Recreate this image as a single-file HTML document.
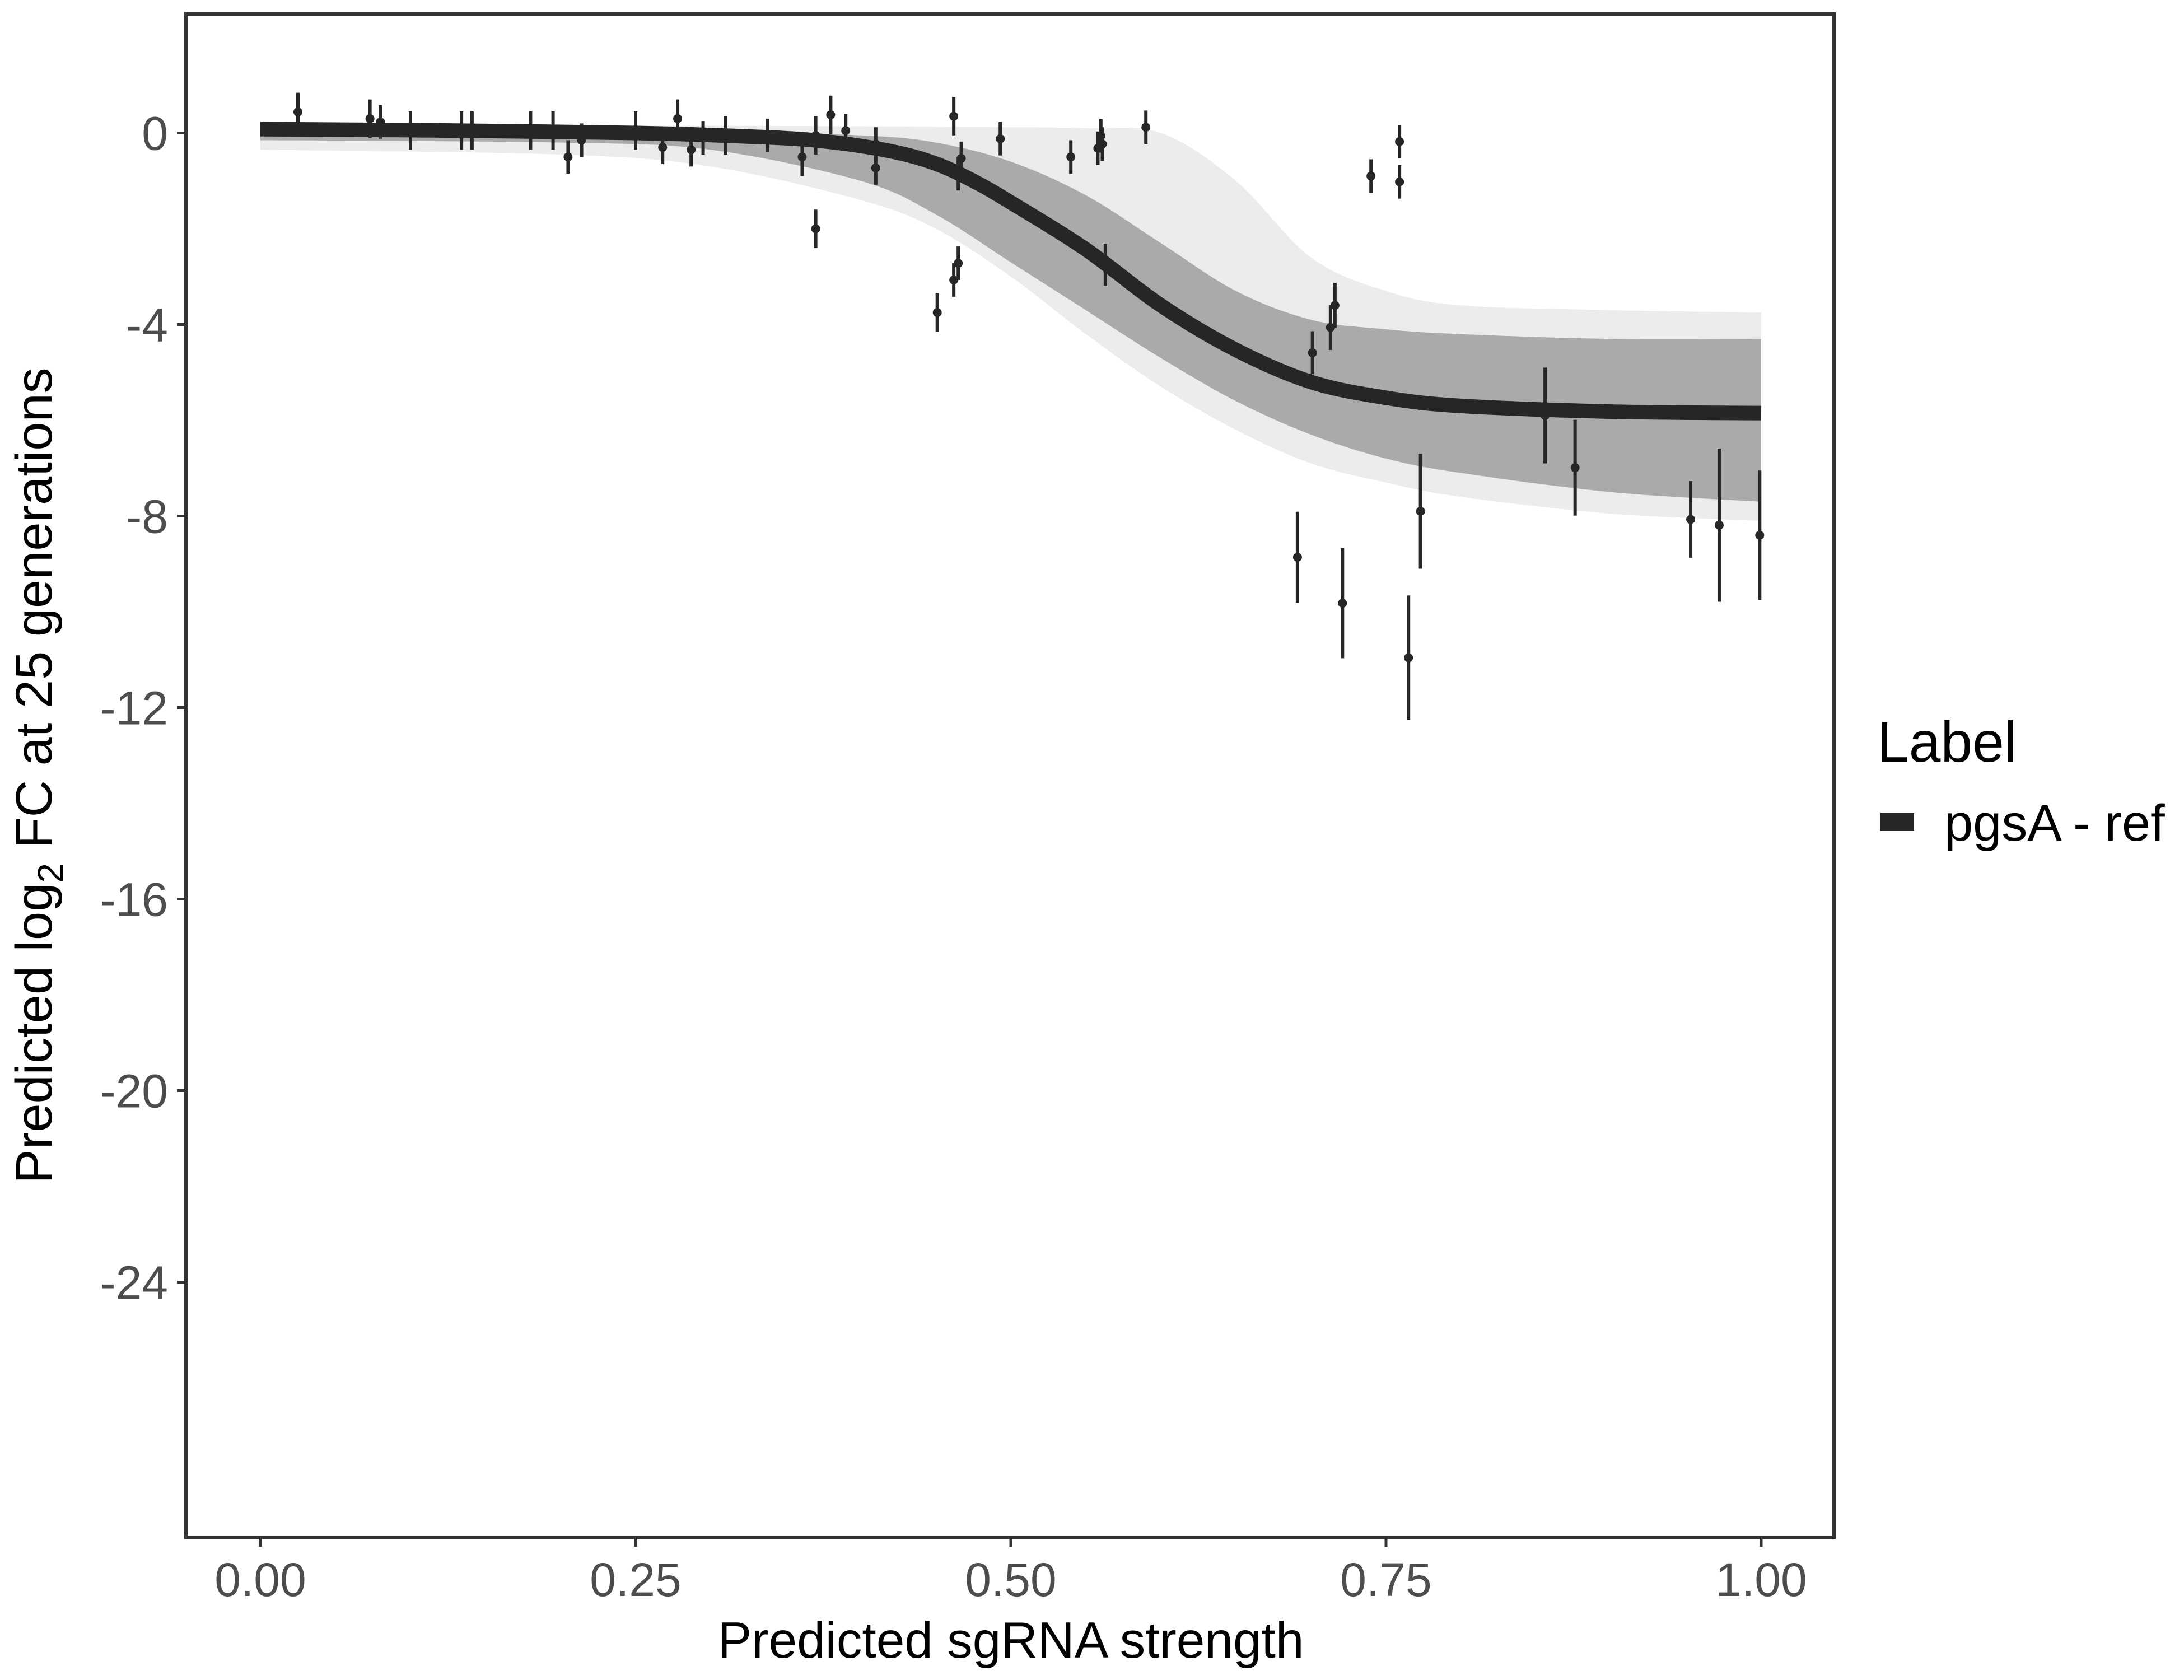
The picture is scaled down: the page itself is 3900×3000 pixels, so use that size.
<!DOCTYPE html>
<html><head><meta charset="utf-8"><style>
html,body{margin:0;padding:0;background:#fff;}
svg{display:block;font-family:"Liberation Sans",sans-serif;}
</style></head><body>
<svg id="chart" width="3900" height="3000" viewBox="0 0 3900 3000">
<rect x="0" y="0" width="3900" height="3000" fill="#fff"/>
<g id="band"></g>
<g id="curve"></g>
<g id="pts"></g>
<rect x="332" y="25" width="2943" height="2720" fill="none" stroke="#333" stroke-width="6"/>
<g id="axes"></g>
<text x="1805" y="2960" text-anchor="middle" font-size="91" fill="#000">Predicted sgRNA strength</text>
<text transform="translate(92,1385) rotate(-90)" text-anchor="middle" font-size="92" fill="#000">Predicted  log<tspan font-size="64" dy="20">2</tspan><tspan dy="-20"> FC at 25 generations</tspan></text>
<text x="3352" y="1360" font-size="102" fill="#000">Label</text>
<rect x="3358" y="1452" width="60" height="32" fill="#262626"/>
<text x="3472" y="1501" font-size="92" fill="#000">pgsA - ref</text>
</svg>
<script>
const xTicks=[0,0.25,0.5,0.75,1];
const xTickLabels=["0.00","0.25","0.50","0.75","1.00"];
const yTicks=[0,-4,-8,-12,-16,-20,-24];
const yTickLabels=["0","-4","-8","-12","-16","-20","-24"];
const curveX=[0,0.1,0.25,0.33,0.375,0.42,0.45,0.475,0.5,0.55,0.6,0.65,0.7,0.75,0.8,0.9,1.0];
const curveY=[0.08,0.06,0,-0.08,-0.17,-0.38,-0.64,-1.0,-1.45,-2.43,-3.6,-4.53,-5.2,-5.53,-5.7,-5.82,-5.85];
const outerX=[0,0.2,0.3,0.4,0.45,0.5,0.55,0.6,0.65,0.7,0.75,0.8,0.9,1.0];
const outerUp=[0.15,0.15,0.15,0.14,0.13,0.12,0.1,0,-1.0,-2.6,-3.3,-3.6,-3.7,-3.75];
const outerLo=[-0.35,-0.45,-0.7,-1.4,-2.0,-3.0,-4.2,-5.3,-6.2,-6.9,-7.3,-7.6,-7.95,-8.1];
const coreUp=[0.05,0.04,0.02,-0.05,-0.2,-0.6,-1.3,-2.3,-3.3,-3.9,-4.1,-4.2,-4.3,-4.3];
const coreLo=[-0.15,-0.2,-0.35,-1.0,-1.7,-2.7,-3.7,-4.7,-5.6,-6.3,-6.8,-7.1,-7.5,-7.7];
const ptX=[0.025,0.073,0.08,0.1,0.134,0.141,0.18,0.195,0.205,0.214,0.25,0.268,0.278,0.287,0.295,0.31,0.338,0.361,0.37,0.37,0.38,0.39,0.41,0.41,0.451,0.462,0.462,0.465,0.465,0.467,0.493,0.54,0.558,0.56,0.561,0.563,0.59,0.691,0.701,0.713,0.716,0.721,0.74,0.759,0.759,0.765,0.773,0.856,0.876,0.953,0.972,0.999];
const ptY=[0.44,0.3,0.23,0.05,0.05,0.05,0.05,0.05,-0.5,-0.15,0.05,-0.3,0.3,-0.35,-0.1,-0.05,-0.05,-0.5,-0.05,-2.0,0.38,0.05,-0.23,-0.73,-3.75,0.35,-3.07,-2.72,-0.85,-0.53,-0.12,-0.5,-0.32,-0.06,-0.23,-2.75,0.12,-8.86,-4.59,-4.06,-3.6,-9.82,-0.9,-0.18,-1.02,-10.96,-7.9,-5.9,-6.99,-8.07,-8.19,-8.4];
const ptErr=[0.4,0.4,0.35,0.4,0.4,0.4,0.4,0.4,0.35,0.35,0.4,0.35,0.4,0.35,0.35,0.4,0.35,0.4,0.4,0.4,0.4,0.35,0.35,0.35,0.4,0.4,0.35,0.35,0.35,0.35,0.35,0.35,0.35,0.35,0.35,0.44,0.35,0.95,0.45,0.47,0.47,1.15,0.35,0.35,0.35,1.3,1.2,1.0,1.0,0.8,1.6,1.35];
const NS="http://www.w3.org/2000/svg";
function sx(v){return 465+v*2680;}
function sy(v){return 237.5-v*85.5;}
function mk(tag,attrs,parent){const e=document.createElementNS(NS,tag);for(const k in attrs)e.setAttribute(k,attrs[k]);parent.appendChild(e);return e;}
function smooth(pts,start){
  let d=(start?"M":"L")+pts[0][0]+","+pts[0][1];
  for(let i=0;i<pts.length-1;i++){
    const p0=pts[Math.max(0,i-1)],p1=pts[i],p2=pts[i+1],p3=pts[Math.min(pts.length-1,i+2)];
    const c1=[p1[0]+(p2[0]-p0[0])/6,p1[1]+(p2[1]-p0[1])/6];
    const c2=[p2[0]-(p3[0]-p1[0])/6,p2[1]-(p3[1]-p1[1])/6];
    d+=" C"+c1[0]+","+c1[1]+" "+c2[0]+","+c2[1]+" "+p2[0]+","+p2[1];
  }
  return d;
}
const band=document.getElementById('band');
function area(xs,up,lo,fill){
  const u=xs.map((x,i)=>[sx(x),sy(up[i])]);
  const l=xs.map((x,i)=>[sx(x),sy(lo[i])]).reverse();
  return mk('path',{d:smooth(u,true)+" "+smooth(l,false)+"Z",fill:fill},band);
}
const o=area(outerX,outerUp,outerLo,"#ececec");


const c=area(outerX,coreUp,coreLo,"#aaaaaa");


const cg=document.getElementById('curve');
const cl=mk('path',{d:smooth(curveX.map((x,i)=>[sx(x),sy(curveY[i])]),true),fill:"none",stroke:"#262626","stroke-width":26},cg);


const pg=document.getElementById('pts');
ptX.forEach((x,i)=>{
  const l=mk('line',{x1:sx(x),x2:sx(x),y1:sy(ptY[i]+ptErr[i]),y2:sy(ptY[i]-ptErr[i]),stroke:"#262626","stroke-width":6},pg);
  
  
  const p=mk('circle',{cx:sx(x),cy:sy(ptY[i]),r:8,fill:"#262626"},pg);
  
  
});
const ax=document.getElementById('axes');
xTicks.forEach((v,i)=>{
  const t=mk('line',{x1:sx(v),x2:sx(v),y1:2748,y2:2762,stroke:"#333","stroke-width":5},ax);
  
  
  const lb=mk('text',{x:sx(v),y:2850,"text-anchor":"middle","font-size":84,fill:"#4d4d4d"},ax);
  lb.textContent=xTickLabels[i];
  
  
});
yTicks.forEach((v,i)=>{
  const t=mk('line',{x1:316,x2:329,y1:sy(v),y2:sy(v),stroke:"#333","stroke-width":5},ax);
  
  
  const lb=mk('text',{x:300,y:sy(v)+30,"text-anchor":"end","font-size":84,fill:"#4d4d4d"},ax);
  lb.textContent=yTickLabels[i];
  
  
});
</script>
</body></html>
